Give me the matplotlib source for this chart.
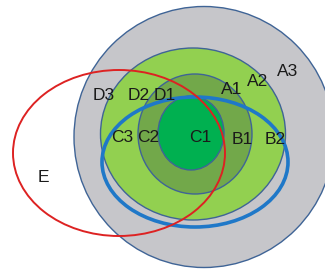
import matplotlib.pyplot as plt
from matplotlib.patches import Ellipse

# nested regions: name, center x, center y, width, height, fill colour
regions = ["A3", "A2", "A1", "C1"]
centers = [(204, 137), (193, 134), (195, 134), (191, 133)]
sizes = [(260, 261), (185, 172), (114, 120), (66, 74)]
fills = ["#c6c6ca", "#92d050", "#72a84a", "#00b050"]

# outline ellipses (blue set, red set E)
outline_centers = [(195, 162), (119, 153)]
outline_sizes = [(186, 130), (212, 166)]
outline_colors = ["#1f78c8", "#dd2222"]
outline_widths = [2.6, 1.4]

labels = ["A3", "A2", "A1", "D3", "D2", "D1", "C3", "C2", "C1", "B1", "B2", "E"]
label_pos = [(288, 71), (258, 81), (232, 89), (104, 95), (139, 96), (165, 95),
             (122, 138), (148, 138), (200, 137), (242, 139), (275, 139), (43, 178)]

fig = plt.figure(figsize=(3.25, 2.71), dpi=100)
ax = fig.add_axes([0, 0, 1, 1])
ax.set_xlim(0, 325)
ax.set_ylim(271, 0)
ax.axis("off")

for (cx, cy), (w, h), fc in zip(centers, sizes, fills):
    ax.add_patch(Ellipse((cx, cy), w, h, facecolor=fc, edgecolor="#3f6496", lw=1.0))

for (cx, cy), (w, h), ec, lw in zip(outline_centers, outline_sizes, outline_colors, outline_widths):
    ax.add_patch(Ellipse((cx, cy), w, h, facecolor="none", edgecolor=ec, lw=lw))

for txt, (x, y) in zip(labels, label_pos):
    ax.text(x, y, txt, ha="center", va="center", fontsize=12.5, color="#1a1a1a",
            family="Liberation Sans")

fig.savefig("out.png", dpi=100)
